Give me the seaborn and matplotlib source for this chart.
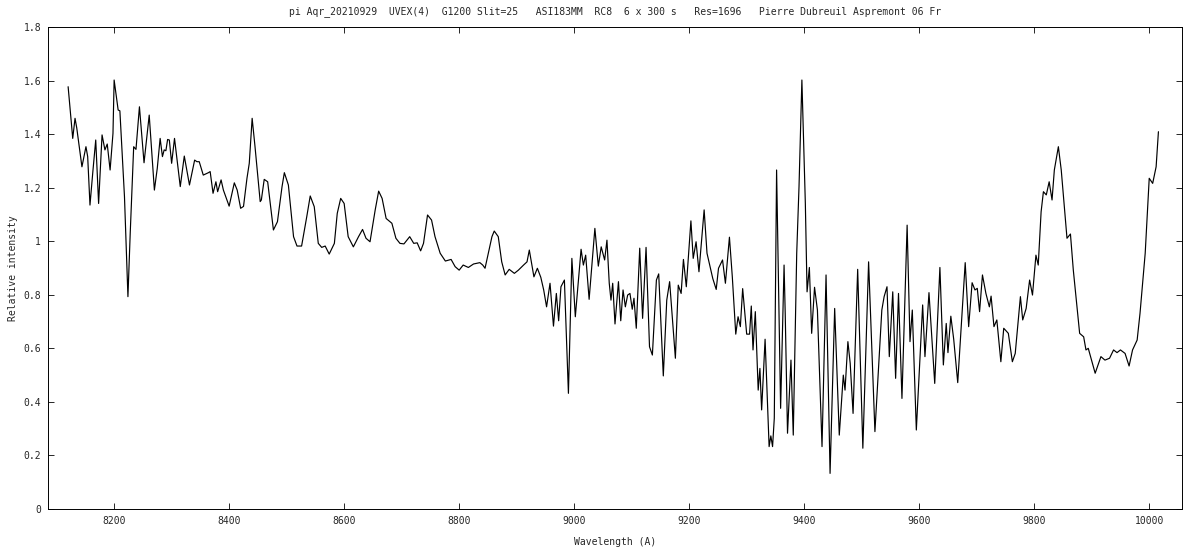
import matplotlib
matplotlib.use("Agg")
import matplotlib.pyplot as plt
import seaborn as sns
import pandas as pd

# Spectre (longueur d'onde en A, intensite relative)
wavelength = [
    8120, 8128, 8132, 8135, 8144, 8151, 8154, 8158, 8163, 8168, 8173, 8179, 8184, 8188, 8193, 8198,
    8200, 8207, 8210, 8218, 8224, 8228, 8234, 8238, 8244, 8252, 8261, 8270, 8275, 8280, 8284, 8287,
    8290, 8293, 8296, 8300, 8305, 8315, 8322, 8331, 8340, 8344, 8348, 8355, 8364, 8367, 8372, 8377,
    8380, 8386, 8390, 8400, 8409, 8414, 8420, 8425, 8431, 8435, 8440, 8445, 8454, 8456, 8461, 8467,
    8477, 8484, 8492, 8496, 8503, 8512, 8518, 8526, 8535, 8541, 8548, 8555, 8561, 8567, 8574, 8583,
    8588, 8594, 8600, 8607, 8616, 8625, 8632, 8638, 8645, 8654, 8660, 8666, 8673, 8683, 8690, 8697,
    8704, 8714, 8721, 8727, 8733, 8738, 8745, 8752, 8758, 8767, 8776, 8786, 8793, 8800, 8807, 8816,
    8825, 8836, 8841, 8845, 8857, 8861, 8868, 8874, 8880, 8887, 8896, 8903, 8912, 8918, 8922, 8926,
    8930, 8936, 8942, 8947, 8952, 8958, 8964, 8969, 8973, 8977, 8983, 8990, 8996, 9002, 9012, 9016,
    9020, 9026, 9036, 9042, 9047, 9053, 9057, 9061, 9064, 9067, 9071, 9077, 9081, 9085, 9089, 9093,
    9097, 9101, 9104, 9108, 9114, 9119, 9125, 9131, 9136, 9143, 9147, 9155, 9161, 9166, 9176, 9181,
    9186, 9190, 9195, 9203, 9207, 9212, 9217, 9226, 9231, 9235, 9241, 9247, 9251, 9258, 9263, 9270,
    9275, 9281, 9285, 9289, 9293, 9300, 9305, 9308, 9311, 9315, 9320, 9323, 9326, 9332, 9339, 9342,
    9345, 9348, 9352, 9359, 9365, 9367, 9371, 9377, 9381, 9387, 9391, 9396, 9402, 9405, 9409, 9413,
    9418, 9423, 9431, 9438, 9445, 9453, 9461, 9468, 9471, 9476, 9480, 9485, 9493, 9502, 9512, 9523,
    9535, 9539, 9544, 9548, 9554, 9559, 9564, 9570, 9579, 9584, 9588, 9595, 9606, 9610, 9617, 9627,
    9636, 9642, 9647, 9650, 9655, 9660, 9667, 9680, 9686, 9692, 9697, 9701, 9705, 9710, 9716, 9722,
    9725, 9730, 9735, 9742, 9747, 9755, 9762, 9767, 9776, 9780, 9786, 9792, 9797, 9803, 9807, 9812,
    9816, 9821, 9826, 9831, 9835, 9842, 9847, 9857, 9863, 9868, 9879, 9886, 9890, 9894, 9906, 9916,
    9923, 9931, 9938, 9944, 9950, 9958, 9965, 9971, 9979, 9984, 9993, 10000, 10006, 10012, 10016,
]
intensity = [
    1.577, 1.384, 1.459, 1.423, 1.278, 1.353, 1.316, 1.135, 1.260, 1.378, 1.141, 1.397, 1.341, 1.363, 1.266, 1.403,
    1.602, 1.490, 1.487, 1.166, 0.793, 1.031, 1.353, 1.343, 1.502, 1.293, 1.471, 1.191, 1.272, 1.384, 1.316, 1.341,
    1.338, 1.380, 1.378, 1.291, 1.384, 1.204, 1.318, 1.210, 1.303, 1.297, 1.297, 1.247, 1.256, 1.260, 1.179, 1.222,
    1.185, 1.229, 1.191, 1.131, 1.218, 1.191, 1.123, 1.130, 1.235, 1.291, 1.459, 1.353, 1.148, 1.154, 1.231, 1.222,
    1.042, 1.073, 1.204, 1.256, 1.210, 1.017, 0.982, 0.982, 1.092, 1.169, 1.129, 0.992, 0.977, 0.982, 0.952, 0.992,
    1.104, 1.160, 1.141, 1.017, 0.979, 1.017, 1.044, 1.011, 0.998, 1.117, 1.187, 1.160, 1.085, 1.067, 1.011, 0.992,
    0.990, 1.017, 0.992, 0.994, 0.964, 0.992, 1.098, 1.079, 1.017, 0.955, 0.926, 0.932, 0.905, 0.892, 0.911, 0.902,
    0.915, 0.920, 0.911, 0.899, 1.017, 1.038, 1.017, 0.923, 0.874, 0.895, 0.880, 0.892, 0.911, 0.923, 0.967, 0.917,
    0.867, 0.899, 0.865, 0.818, 0.755, 0.843, 0.683, 0.805, 0.703, 0.830, 0.855, 0.432, 0.936, 0.718, 0.970, 0.911,
    0.948, 0.783, 1.048, 0.907, 0.979, 0.930, 1.004, 0.843, 0.780, 0.843, 0.691, 0.849, 0.703, 0.818, 0.755, 0.799,
    0.805, 0.746, 0.787, 0.675, 0.974, 0.712, 0.977, 0.606, 0.575, 0.855, 0.878, 0.497, 0.780, 0.849, 0.563, 0.836,
    0.805, 0.932, 0.830, 1.076, 0.936, 0.998, 0.886, 1.117, 0.955, 0.917, 0.861, 0.820, 0.899, 0.930, 0.843, 1.015,
    0.867, 0.653, 0.718, 0.681, 0.823, 0.653, 0.653, 0.758, 0.594, 0.737, 0.444, 0.525, 0.370, 0.634, 0.233, 0.273,
    0.233, 0.339, 1.266, 0.376, 0.911, 0.731, 0.283, 0.556, 0.276, 0.955, 1.204, 1.602, 1.141, 0.811, 0.902, 0.656,
    0.828, 0.743, 0.233, 0.874, 0.133, 0.749, 0.276, 0.500, 0.444, 0.625, 0.544, 0.357, 0.895, 0.227, 0.923, 0.289,
    0.743, 0.793, 0.830, 0.569, 0.811, 0.488, 0.805, 0.413, 1.060, 0.625, 0.743, 0.295, 0.762, 0.569, 0.808, 0.469,
    0.902, 0.538, 0.693, 0.584, 0.720, 0.634, 0.472, 0.920, 0.681, 0.845, 0.818, 0.824, 0.737, 0.874, 0.805, 0.755,
    0.795, 0.681, 0.706, 0.550, 0.675, 0.656, 0.550, 0.581, 0.793, 0.706, 0.749, 0.855, 0.799, 0.948, 0.911, 1.110,
    1.185, 1.173, 1.222, 1.154, 1.266, 1.353, 1.266, 1.011, 1.027, 0.892, 0.656, 0.643, 0.594, 0.600, 0.507, 0.569,
    0.556, 0.563, 0.594, 0.584, 0.594, 0.581, 0.534, 0.594, 0.631, 0.731, 0.955, 1.235, 1.216, 1.278, 1.409,
]

xticks = [8200, 8400, 8600, 8800, 9000, 9200, 9400, 9600, 9800, 10000]
yticks = [0, 0.2, 0.4, 0.6, 0.8, 1, 1.2, 1.4, 1.6, 1.8]
ytick_labels = ["0", "0.2", "0.4", "0.6", "0.8", "1", "1.2", "1.4", "1.6", "1.8"]

title = ("pi Aqr_20210929  UVEX(4)  G1200 Slit=25   ASI183MM  RC8  6 x 300 s   "
         "Res=1696   Pierre Dubreuil Aspremont 06 Fr")

sns.set_style("ticks")
plt.rcParams['font.family'] = ['DejaVu Sans Mono']
fs = 7.0

df = pd.DataFrame({'wl': wavelength, 'flux': intensity})

fig = plt.figure(figsize=(12, 5.5), dpi=100)
ax = fig.add_axes([48 / 1200, 41 / 550, 1134 / 1200, 482 / 550])
sns.lineplot(data=df, x='wl', y='flux', ax=ax, color='black', linewidth=0.85,
             estimator=None, sort=False)

ax.set_xlim(8085, 10057)
ax.set_ylim(0, 1.8)
ax.set_xticks(xticks)
ax.set_xticklabels([str(t) for t in xticks], fontsize=fs)
ax.set_yticks(yticks)
ax.set_yticklabels(ytick_labels, fontsize=fs)
ax.tick_params(direction='in', length=4.5, width=0.7, top=True, right=True, pad=5)
for s in ax.spines.values():
    s.set_linewidth(0.7)
    s.set_color('black')

ax.set_xlabel('Wavelength (A)', fontsize=fs, labelpad=8)
ax.set_ylabel('Relative intensity', fontsize=fs, labelpad=4)
fig.text(615 / 1200, 1 - 12 / 550, title, ha='center', va='center', fontsize=fs)

fig.savefig('out.png', dpi=100)
